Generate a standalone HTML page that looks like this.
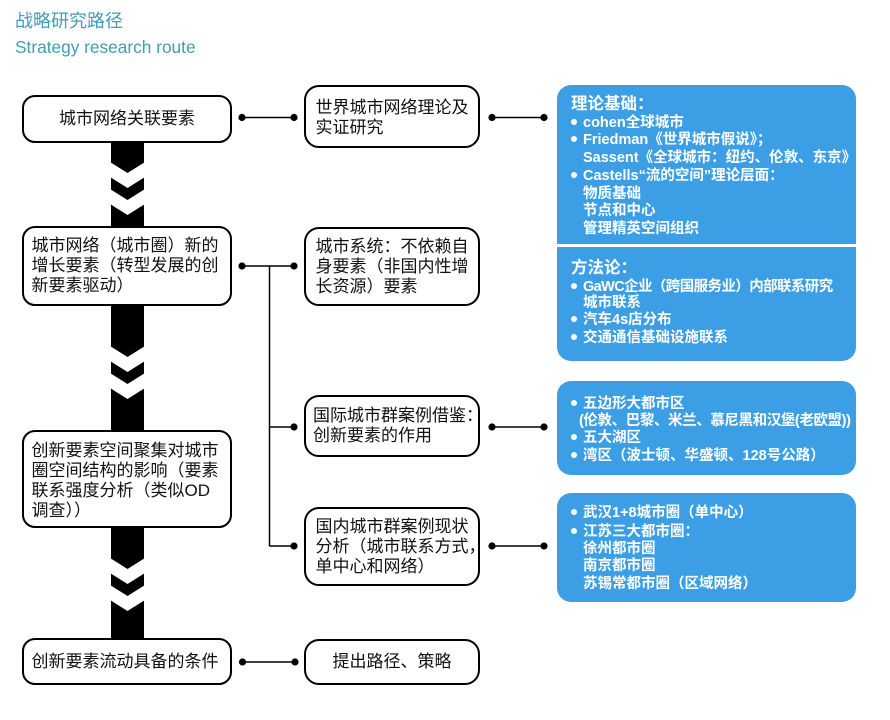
<!DOCTYPE html>
<html><head><meta charset="utf-8">
<style>
*{margin:0;padding:0;box-sizing:border-box}
html,body{width:890px;height:720px;background:#fff;overflow:hidden}
body{position:relative;font-family:"Liberation Sans","Noto Sans CJK SC",sans-serif}
svg{position:absolute;left:0;top:0}
.title{position:absolute;left:15px;color:#3f9db7;white-space:nowrap}
.box{position:absolute;border:2.5px solid #000;border-radius:13px;background:#fff;display:flex;flex-direction:column;justify-content:center;font-size:17px;line-height:20px;color:#111;white-space:nowrap}
.lb{left:22px;width:210px;padding-left:7.5px}
.mb{left:304px;width:176px;padding-left:9.5px;border-radius:15px}
.c{align-items:center;padding-left:0}
.panel{position:absolute;left:557px;width:299px;background:#3c9fe6;border-radius:14px}
.t{position:absolute;color:#fff;font-weight:bold;font-size:14.5px;line-height:18px;height:18px;white-space:nowrap;left:583px}
.h{font-size:16.5px;left:571px}
.b::before{content:"";position:absolute;left:-12px;top:5px;width:6px;height:6px;border-radius:50%;background:#fff}
</style></head><body>

<div class="title" style="top:9px;font-size:18px;line-height:24px;">战略研究路径</div>
<div class="title" style="top:36px;font-size:17.3px;line-height:22px;">Strategy research route</div>

<svg width="890" height="720" viewBox="0 0 890 720">
  <g fill="#000">
    <rect x="111" y="140" width="33" height="89"/>
    <rect x="111" y="303" width="33" height="130"/>
    <rect x="111" y="525" width="33" height="116"/>
  </g>
  <g fill="#fff">
    <polygon points="110,162 127.5,173 145,162 145,177 127.5,188 110,177"/>
    <polygon points="110,189 127.5,200 145,189 145,204 127.5,215 110,204"/>
    <polygon points="110,346 127.5,357 145,346 145,361 127.5,372 110,361"/>
    <polygon points="110,373 127.5,384 145,373 145,388 127.5,399 110,388"/>
    <polygon points="110,558 127.5,569 145,558 145,573 127.5,584 110,573"/>
    <polygon points="110,585 127.5,596 145,585 145,600 127.5,611 110,600"/>
  </g>
  <g stroke="#000" stroke-width="1.5" fill="none">
    <line x1="242" y1="117.5" x2="294" y2="117.5"/>
    <line x1="242" y1="266" x2="294" y2="266"/>
    <line x1="269.5" y1="266" x2="269.5" y2="546"/>
    <line x1="269.5" y1="427" x2="294" y2="427"/>
    <line x1="269.5" y1="546" x2="294" y2="546"/>
    <line x1="242.5" y1="662" x2="295" y2="662"/>
    <line x1="492" y1="117.5" x2="544" y2="117.5"/>
    <line x1="492" y1="427" x2="544" y2="427"/>
    <line x1="492" y1="546" x2="544" y2="546"/>
  </g>
  <g fill="#000">
    <circle cx="242" cy="117.5" r="3.6"/><circle cx="294" cy="117.5" r="3.6"/>
    <circle cx="242" cy="266" r="3.6"/><circle cx="294" cy="266" r="3.6"/>
    <circle cx="294" cy="427" r="3.6"/><circle cx="294" cy="546" r="3.6"/>
    <circle cx="242.5" cy="662" r="3.6"/><circle cx="295" cy="662" r="3.6"/>
    <circle cx="492" cy="117.5" r="3.6"/><circle cx="544" cy="117.5" r="3.6"/>
    <circle cx="492" cy="427" r="3.6"/><circle cx="544" cy="427" r="3.6"/>
    <circle cx="492" cy="546" r="3.6"/><circle cx="544" cy="546" r="3.6"/>
  </g>
</svg>

<!-- left column -->
<div class="box lb c" style="top:95px;height:48px;">城市网络关联要素</div>
<div class="box lb" style="top:226px;height:80px;">城市网络（城市圈）新的<br>增长要素（转型发展的创<br>新要素驱动）</div>
<div class="box lb" style="top:430px;height:98px;padding-top:3px;">创新要素空间聚集对城市<br>圈空间结构的影响（要素<br>联系强度分析（类似OD<br>调查））</div>
<div class="box lb" style="top:638px;height:47px;">创新要素流动具备的条件</div>

<!-- middle column -->
<div class="box mb" style="top:85px;height:63px;padding-top:3px;">世界城市网络理论及<br>实证研究</div>
<div class="box mb" style="top:227px;height:79px;">城市系统：不依赖自<br>身要素（非国内性增<br>长资源）要素</div>
<div class="box mb" style="top:395px;height:62px;padding-left:7px;">国际城市群案例借鉴：<br>创新要素的作用</div>
<div class="box mb" style="top:507px;height:79px;">国内城市群案例现状<br>分析（城市联系方式，<br>单中心和网络）</div>
<div class="box mb c" style="top:639px;height:46px;">提出路径、策略</div>

<!-- panel 1 -->
<div class="panel" style="top:85px;height:276px;"></div>
<div style="position:absolute;left:557px;top:244px;width:299px;height:3px;background:#fff;"></div>
<div class="t h" style="top:95px;">理论基础：</div>
<div class="t b" style="top:113.7px;">cohen全球城市</div>
<div class="t b" style="top:131.4px;">Friedman《世界城市假说》；</div>
<div class="t" style="top:149.1px;">Sassent《全球城市：纽约、伦敦、东京》</div>
<div class="t b" style="top:166.8px;">Castells“流的空间”理论层面：</div>
<div class="t" style="top:184.5px;">物质基础</div>
<div class="t" style="top:202.2px;">节点和中心</div>
<div class="t" style="top:219.9px;">管理精英空间组织</div>

<div class="t h" style="top:259.3px;">方法论：</div>
<div class="t b" style="top:277.7px;letter-spacing:-0.6px;">GaWC企业（跨国服务业）内部联系研究</div>
<div class="t" style="top:294.3px;">城市联系</div>
<div class="t b" style="top:311px;">汽车4s店分布</div>
<div class="t b" style="top:328.7px;">交通通信基础设施联系</div>

<!-- panel 2 -->
<div class="panel" style="top:381px;height:94px;"></div>
<div class="t b" style="top:395.3px;">五边形大都市区</div>
<div class="t" style="top:412px;left:579px;letter-spacing:-0.4px;">(伦敦、巴黎、米兰、慕尼黑和汉堡(老欧盟))</div>
<div class="t b" style="top:429.3px;">五大湖区</div>
<div class="t b" style="top:447px;">湾区（波士顿、华盛顿、128号公路）</div>

<!-- panel 3 -->
<div class="panel" style="top:493px;height:109px;"></div>
<div class="t b" style="top:504.3px;">武汉1+8城市圈（单中心）</div>
<div class="t b" style="top:522.7px;">江苏三大都市圈：</div>
<div class="t" style="top:540px;">徐州都市圈</div>
<div class="t" style="top:557px;">南京都市圈</div>
<div class="t" style="top:575px;">苏锡常都市圈（区域网络）</div>

</body></html>
